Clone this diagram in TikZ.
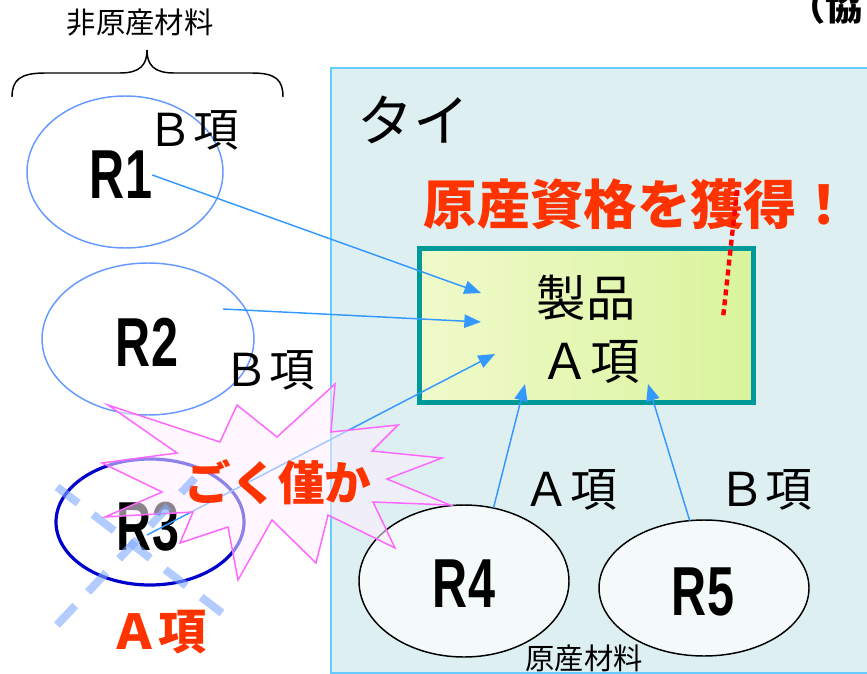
\documentclass[tikz,border=0pt]{standalone}
\usepackage{fontspec}
\setmainfont{Noto Sans CJK JP}
\newfontfamily\rfont[FakeStretch=0.7]{Liberation Sans}
\usetikzlibrary{arrows.meta,shapes.geometric}
\definecolor{regionfill}{HTML}{DEEFF2}
\definecolor{regionline}{HTML}{66CCFF}
\definecolor{arrowblue}{HTML}{3399FF}
\definecolor{ovalblue}{HTML}{6699FF}
\definecolor{darkblue}{HTML}{0000CC}
\definecolor{redtext}{HTML}{FF3300}
\definecolor{tealline}{HTML}{009999}
\definecolor{pinkline}{HTML}{FF66FF}
\definecolor{pinkfill}{HTML}{FFEEFF}
\definecolor{xblue}{HTML}{7FAAFF}
\definecolor{boxleft}{HTML}{F0FACB}
\definecolor{boxright}{HTML}{D9F49C}
\definecolor{ovalfill}{HTML}{F4FAFA}
\tikzset{
  txt/.style={inner sep=0pt, font=\fontsize{#1}{#1}\selectfont},
  redtxt/.style={inner sep=0pt, text=redtext, font=\fontsize{#1}{#1}\selectfont\bfseries},
  rlabel/.style={inner sep=0pt, font=\rfont\bfseries\fontsize{52}{52}\selectfont},
  oval/.style={ellipse, inner sep=0pt, outer sep=0pt},
  feed/.style={draw=arrowblue, line width=1.1pt, -{Triangle[length=12.5pt,width=10pt]}},
  xdash/.style={draw=xblue, draw opacity=0.6, line width=6pt, dash pattern=on 20pt off 14pt},
}
\begin{document}
\begin{tikzpicture}[x=0.75pt,y=-0.75pt]
\useasboundingbox (0,0) rectangle (867,674);
\clip (0,0) rectangle (867,674);
% Thai region
\node[draw=regionline, fill=regionfill, line width=1.2pt, anchor=north west,
      minimum width=412.5pt, minimum height=453.75pt, inner sep=0pt] (thai) at (330,67) {};
\node[txt=42pt] (thaiT) at (413,120) {タイ};
% top texts
\node[txt=22pt] (nonorig) at (140,23) {非原産材料};
\node[inner sep=0pt, font=\fontsize{28}{28}\selectfont\bfseries, anchor=base west] (kyo) at (788,21) {（協};
\coordinate (brL) at (12,97);
\coordinate (brR) at (283,97);
\coordinate (brTip) at (147,50);
\draw[line width=1.1pt] (brL) .. controls (12,80) and (20,73) .. (45,73) -- (120,73)
   .. controls (140,73) and (147,65) .. (brTip)
   .. controls (147,65) and (154,73) .. (174,73) -- (252,73)
   .. controls (276,73) and (283,80) .. (brR);
% product box
\node[draw=tealline, line width=3.75pt, left color=boxleft, right color=boxright,
      minimum width=250.5pt, minimum height=115.5pt, inner sep=0pt] (prod) at (586,325) {};
\node[txt=37pt] (prodT) at (586,298) {製品};
\node[txt=37pt] (prodA) at (590,362) {Ａ項};
\node[redtxt=40pt] (gain) at (637,204) {原産資格を獲得！};
% ovals
\node[oval, draw=ovalblue, line width=1.1pt, minimum width=147pt, minimum height=114pt] (r1) at (125,172) {};
\node[oval, draw=ovalblue, line width=1.1pt, minimum width=159pt, minimum height=114pt] (r2) at (148,339) {};
\node[oval, draw=darkblue, line width=2.4pt, minimum width=141pt, minimum height=94.5pt] (r3) at (150,522) {};
\node[oval, draw=black, fill=ovalfill, line width=1.1pt, minimum width=157.5pt, minimum height=114pt] (r4) at (464,581) {};
\node[oval, draw=black, fill=ovalfill, line width=1.1pt, minimum width=157.5pt, minimum height=102pt] (r5) at (704,588) {};
\node[rlabel] (r1t) at (121,175) {R1};
\node[rlabel] (r2t) at (147,342) {R2};
\node[rlabel] (r3t) at (148,527) {R3};
\node[rlabel] (r4t) at (464,584) {R4};
\node[rlabel] (r5t) at (703,592) {R5};
\node[txt=34pt] (b1) at (193,130) {Ｂ項};
\node[txt=34pt] (b2) at (269,370) {Ｂ項};
\node[txt=35pt] (a4) at (570,490) {Ａ項};
\node[txt=35pt] (b5) at (765,490) {Ｂ項};
\node[txt=22pt] (orig) at (584,658) {原産材料};
\node[redtxt=36pt] (a3) at (158,632) {Ａ項};
% arrows
\coordinate (p1) at (481,293);
\coordinate (p2) at (481,322);
\coordinate (p3) at (495,354);
\coordinate (p4) at (525,384);
\coordinate (p5) at (648,384);
\coordinate (r2s) at (223,309);
\coordinate (r3s) at (147,535);
\draw[feed] (r1t.east) -- (p1);
\draw[feed] (r2s) -- (p2);
\draw[feed] (r3s) -- (p3);
\draw[feed] (r4.68) -- (p4);
\draw[feed] (r5.102) -- (p5);
% starburst
\draw[draw=pinkline, line width=1.1pt, fill=pinkfill, fill opacity=0.55, line join=miter]
  (108,405) -- (220,442) -- (237,405) -- (277,437) -- (335,384) -- (331,432) --
  (398,425) -- (372,451) -- (442,458) -- (387,479) -- (450,505) -- (373,502) --
  (395,548) -- (328,515) -- (316,563) -- (272,520) -- (238,580) -- (228,527) --
  (180,543) -- (193,512) -- (105,517) -- (162,492) -- (102,463) -- (177,453) -- cycle;
\node[redtxt=35pt] (few) at (278,482) {ごく僅か};
% cross-out on R3
\coordinate (x1a) at (57,487);
\coordinate (x1b) at (222,613);
\coordinate (x2a) at (57,625);
\coordinate (x2b) at (195,478);
\draw[xdash] (x1a) -- (x1b);
\draw[xdash] (x2a) -- (x2b);
% red dotted pointer
\coordinate (d1) at (737,190);
\coordinate (d2) at (723,318);
\draw[red, line width=3.3pt, dash pattern=on 4.5pt off 3pt] (d1) -- (d2);
\end{tikzpicture}
\end{document}
